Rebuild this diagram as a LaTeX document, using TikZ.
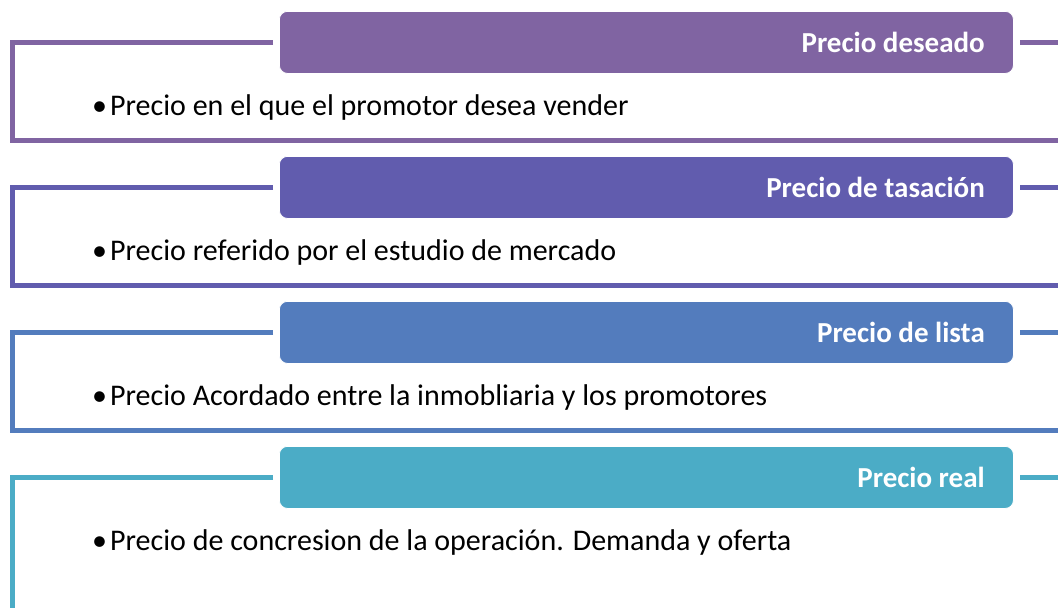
\documentclass[tikz,border=0pt]{standalone}
\usepackage{fontspec}
\setmainfont{Carlito}
\definecolor{cA}{HTML}{8064A2}
\definecolor{cB}{HTML}{615CAE}
\definecolor{cC}{HTML}{537CBD}
\definecolor{cD}{HTML}{4BACC6}
\newcommand{\bul}{•\kern3pt}
\tikzset{
  hdr/.style={fill=#1, draw=white, line width=0.8pt, rounded corners=8pt, minimum width=734pt, minimum height=62pt, anchor=north west, inner sep=0pt},
  hdrtext/.style={text=white, font=\fontsize{29}{34}\selectfont\bfseries, anchor=east, inner sep=0pt},
  frameline/.style={draw=#1, line width=5pt},
  bullet/.style={anchor=base west, inner sep=0pt, font=\fontsize{30}{36}\selectfont, text=black}
}
\begin{document}
\begin{tikzpicture}[x=1pt,y=-1pt]
\useasboundingbox (0,0) rectangle (1058,608);
% frame 1
\node[hdr=cA] (b1) at (279,11) {};
\node[hdrtext] (t1) at (985,42) {Precio deseado};
\coordinate (l1a) at (273,42);
\coordinate (l1b) at (12,42);
\coordinate (l1c) at (12,140);
\coordinate (l1d) at (1058,140);
\coordinate (r1a) at (1020,42);
\coordinate (r1b) at (1058,42);
\draw[frameline=cA] (l1a) -- (l1b) -- (l1c) -- (l1d);
\draw[frameline=cA] (r1a) -- (r1b);
\node[bullet] (p1) at (92,115) {\bul Precio en el que el promotor desea vender};
% frame 2
\node[hdr=cB] (b2) at (279,156) {};
\node[hdrtext] (t2) at (985,187) {Precio de tasación};
\coordinate (l2a) at (273,187);
\coordinate (l2b) at (12,187);
\coordinate (l2c) at (12,285);
\coordinate (l2d) at (1058,285);
\coordinate (r2a) at (1020,187);
\coordinate (r2b) at (1058,187);
\draw[frameline=cB] (l2a) -- (l2b) -- (l2c) -- (l2d);
\draw[frameline=cB] (r2a) -- (r2b);
\node[bullet] (p2) at (92,260) {\bul Precio referido por el estudio de mercado};
% frame 3
\node[hdr=cC] (b3) at (279,301) {};
\node[hdrtext] (t3) at (985,332) {Precio de lista};
\coordinate (l3a) at (273,332);
\coordinate (l3b) at (12,332);
\coordinate (l3c) at (12,430);
\coordinate (l3d) at (1058,430);
\coordinate (r3a) at (1020,332);
\coordinate (r3b) at (1058,332);
\draw[frameline=cC] (l3a) -- (l3b) -- (l3c) -- (l3d);
\draw[frameline=cC] (r3a) -- (r3b);
\node[bullet] (p3) at (92,405) {\bul Precio Acordado entre la inmobliaria y los promotores};
% frame 4
\node[hdr=cD] (b4) at (279,446) {};
\node[hdrtext] (t4) at (985,477) {Precio real};
\coordinate (l4a) at (273,477);
\coordinate (l4b) at (12,477);
\coordinate (l4c) at (12,610);
\coordinate (r4a) at (1020,477);
\coordinate (r4b) at (1058,477);
\draw[frameline=cD] (l4a) -- (l4b) -- (l4c);
\draw[frameline=cD] (r4a) -- (r4b);
\node[bullet] (p4) at (92,550) {\bul Precio de concresion de la operación. Demanda y oferta};
\end{tikzpicture}
\end{document}
